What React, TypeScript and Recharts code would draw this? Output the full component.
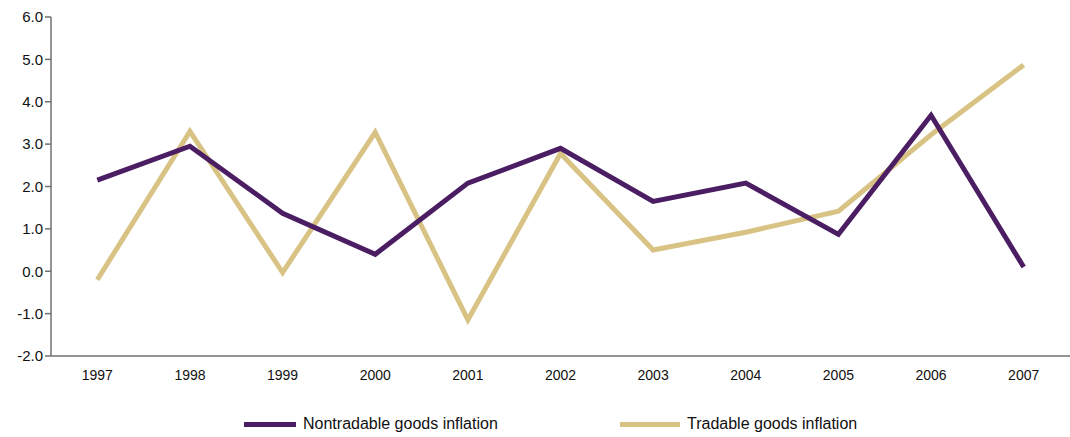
import React from "react";
import { LineChart, Line, XAxis, YAxis } from "recharts";

// Inflation, %
const years = ["1997", "1998", "1999", "2000", "2001", "2002", "2003", "2004", "2005", "2006", "2007"];
const nontradable = [2.15, 2.95, 1.37, 0.4, 2.08, 2.9, 1.65, 2.08, 0.87, 3.68, 0.1];
const tradable = [-0.2, 3.3, -0.03, 3.28, -1.15, 2.78, 0.5, 0.92, 1.42, 3.22, 4.87];
const yTicks = [-2, -1, 0, 1, 2, 3, 4, 5, 6];

const PURPLE = "#4b1d62";
const TAN = "#d8c385";
const AXIS = "#707070";
const FONT = "'Liberation Sans Narrow', 'Liberation Sans', Arial, sans-serif";

const data = years.map((year, i) => ({
  x: i + 0.5,
  year,
  nontradable: nontradable[i],
  tradable: tradable[i],
}));

const labelTicks = years.map((_, i) => i + 0.5);
const boundaryTicks = years.map((_, i) => i + 1).slice(0, -1);

function LegendRow() {
  const item = (color: string, label: string, lineLeft: number, lineWidth: number) => (
    <div style={{ position: "absolute", left: lineLeft, top: 0, display: "flex", alignItems: "center" }}>
      <div style={{ width: lineWidth, height: 5, background: color }} />
      <span style={{ marginLeft: 7, fontSize: 16, color: "#111", fontFamily: FONT }}>{label}</span>
    </div>
  );
  return (
    <div style={{ position: "absolute", left: 0, top: 415, width: 1070, height: 22 }}>
      {item(PURPLE, "Nontradable goods inflation", 244, 52)}
      {item(TAN, "Tradable goods inflation", 620, 60)}
    </div>
  );
}

export default function App() {
  return (
    <div style={{ position: "absolute", left: 0, top: 0, width: 1070, height: 437, background: "#fff" }}>
      <LineChart width={1070} height={437} data={data} margin={{ top: 17, right: 0, bottom: 51, left: 0 }}>
        <XAxis
          xAxisId="labels"
          dataKey="x"
          type="number"
          domain={[0, years.length]}
          ticks={labelTicks}
          tickFormatter={(v: number) => years[Math.round(v - 0.5)]}
          tickLine={false}
          axisLine={{ stroke: AXIS, strokeWidth: 1.5 }}
          tick={{ fontSize: 14, fill: "#111", fontFamily: FONT }}
          tickMargin={8}
          height={30}
        />
        <XAxis
          xAxisId="bounds"
          dataKey="x"
          type="number"
          domain={[0, years.length]}
          ticks={boundaryTicks}
          tick={false}
          tickLine={{ stroke: "#222", strokeWidth: 1 }}
          tickSize={6}
          axisLine={false}
          height={0}
        />
        <YAxis
          domain={[-2, 6]}
          ticks={yTicks}
          tickFormatter={(v: number) => v.toFixed(1)}
          tick={{ fontSize: 15, fill: "#111", fontFamily: FONT }}
          tickLine={{ stroke: AXIS, strokeWidth: 1.5 }}
          tickSize={6}
          axisLine={{ stroke: AXIS, strokeWidth: 1.5 }}
          width={51}
          allowDataOverflow
        />
        <Line
          xAxisId="labels"
          dataKey="tradable"
          stroke={TAN}
          strokeWidth={5}
          dot={false}
          type="linear"
          isAnimationActive={false}
        />
        <Line
          xAxisId="labels"
          dataKey="nontradable"
          stroke={PURPLE}
          strokeWidth={5}
          dot={false}
          type="linear"
          isAnimationActive={false}
        />
      </LineChart>
      <LegendRow />
    </div>
  );
}
